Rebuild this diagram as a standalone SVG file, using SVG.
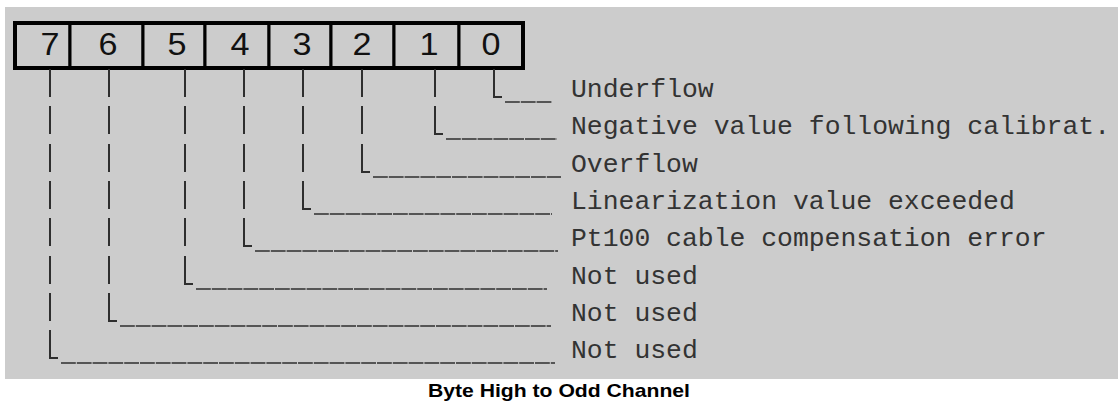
<svg xmlns="http://www.w3.org/2000/svg" width="1118" height="403" viewBox="0 0 1118 403">
  <style>
    .digit { font-family: "Liberation Sans", Arial, sans-serif; font-size: 32px; fill: #111; text-anchor: middle; }
    .lbl { font-family: "Liberation Mono", "Courier New", monospace; font-size: 25px; fill: #333; }
    .cap { font-family: "Liberation Sans", Arial, sans-serif; font-size: 19px; font-weight: bold; fill: #000; text-anchor: middle; }
    .vert { fill: none; stroke: #2e2e2e; stroke-width: 2; }
    .under { fill: none; stroke: #555; stroke-width: 2; stroke-dasharray: 14.8 1; }
    .cell { fill: #cccccc; stroke: #000; stroke-width: 3; }
  </style>
  <rect x="0" y="0" width="1118" height="403" fill="#ffffff"/>
  <rect x="5" y="7" width="1113" height="372" fill="#cccccc"/>

  <g id="register">
    <g id="bit7"><rect class="cell" x="15" y="23" width="55" height="45"/><text class="digit" x="50" y="55" textLength="19" lengthAdjust="spacingAndGlyphs">7</text></g>
    <g id="bit6"><rect class="cell" x="70" y="23" width="73" height="45"/><text class="digit" x="108" y="55" textLength="19" lengthAdjust="spacingAndGlyphs">6</text></g>
    <g id="bit5"><rect class="cell" x="143" y="23" width="62" height="45"/><text class="digit" x="177" y="55" textLength="19" lengthAdjust="spacingAndGlyphs">5</text></g>
    <g id="bit4"><rect class="cell" x="205" y="23" width="64" height="45"/><text class="digit" x="240" y="55" textLength="19" lengthAdjust="spacingAndGlyphs">4</text></g>
    <g id="bit3"><rect class="cell" x="269" y="23" width="62" height="45"/><text class="digit" x="302" y="55" textLength="19" lengthAdjust="spacingAndGlyphs">3</text></g>
    <g id="bit2"><rect class="cell" x="331" y="23" width="63" height="45"/><text class="digit" x="362" y="55" textLength="19" lengthAdjust="spacingAndGlyphs">2</text></g>
    <g id="bit1"><rect class="cell" x="394" y="23" width="65" height="45"/><text class="digit" x="429" y="55" textLength="19" lengthAdjust="spacingAndGlyphs">1</text></g>
    <g id="bit0"><rect class="cell" x="459" y="23" width="64" height="45"/><text class="digit" x="491" y="55" textLength="19" lengthAdjust="spacingAndGlyphs">0</text></g>
    <rect x="15" y="23" width="508" height="45" fill="none" stroke="#000" stroke-width="4"/>
  </g>

  <g id="connectors">
    <path class="vert" d="M494 69V97H502"/>
    <path class="under" d="M505 102H552"/>
    <path class="vert" d="M435 69V97M435 106V134H443"/>
    <path class="under" d="M446 139H557"/>
    <path class="vert" d="M362 69V97M362 106V134M362 144V172H370"/>
    <path class="under" d="M373 177H561"/>
    <path class="vert" d="M303 69V97M303 106V134M303 144V172M303 181V209H311"/>
    <path class="under" d="M314 214H552"/>
    <path class="vert" d="M244 69V97M244 106V134M244 144V172M244 181V209M244 218V246H252"/>
    <path class="under" d="M255 251H558"/>
    <path class="vert" d="M185 69V97M185 106V134M185 144V172M185 181V209M185 218V246M185 256V284H193"/>
    <path class="under" d="M196 289H547"/>
    <path class="vert" d="M109 69V97M109 106V134M109 144V172M109 181V209M109 218V246M109 256V284M109 293V321H117"/>
    <path class="under" d="M120 326H551"/>
    <path class="vert" d="M50 69V97M50 106V134M50 144V172M50 181V209M50 218V246M50 256V284M50 293V321M50 330V358H58"/>
    <path class="under" d="M61 363H555"/>
  </g>

  <g id="label0"><text class="lbl" x="571" y="97" textLength="142.7" lengthAdjust="spacingAndGlyphs">Underflow</text></g>
  <g id="label1"><text class="lbl" x="571" y="134" textLength="539" lengthAdjust="spacingAndGlyphs">Negative value following calibrat.</text></g>
  <g id="label2"><text class="lbl" x="571" y="172" textLength="126.8" lengthAdjust="spacingAndGlyphs">Overflow</text></g>
  <g id="label3"><text class="lbl" x="571" y="209" textLength="443.8" lengthAdjust="spacingAndGlyphs">Linearization value exceeded</text></g>
  <g id="label4"><text class="lbl" x="571" y="246" textLength="475.5" lengthAdjust="spacingAndGlyphs">Pt100 cable compensation error</text></g>
  <g id="label5"><text class="lbl" x="571" y="284" textLength="126.8" lengthAdjust="spacingAndGlyphs">Not used</text></g>
  <g id="label6"><text class="lbl" x="571" y="321" textLength="126.8" lengthAdjust="spacingAndGlyphs">Not used</text></g>
  <g id="label7"><text class="lbl" x="571" y="358" textLength="126.8" lengthAdjust="spacingAndGlyphs">Not used</text></g>

  <g id="caption"><text class="cap" x="559" y="397" textLength="262" lengthAdjust="spacingAndGlyphs">Byte High to Odd Channel</text></g>
</svg>
